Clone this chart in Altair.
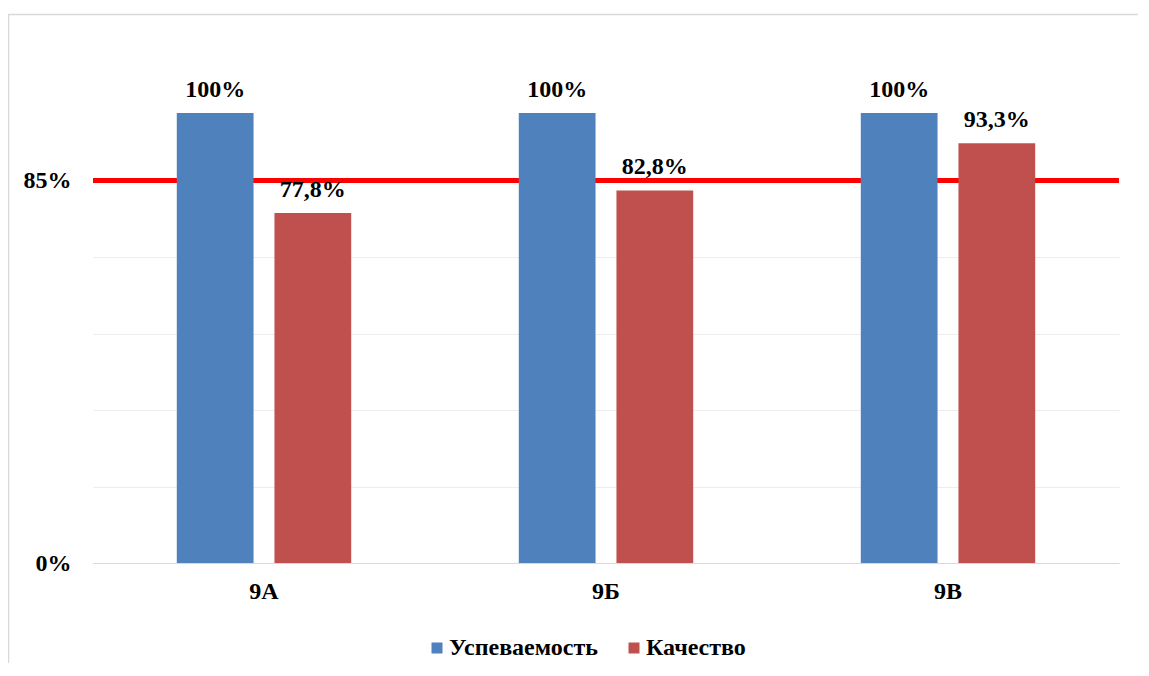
import altair as alt
import pandas as pd

classes = ["9А", "9Б", "9В"]
series = ["Успеваемость", "Качество"]
uspevaemost = [100, 100, 100]
kachestvo = [77.8, 82.8, 93.3]
target = [85]
colors = ["#4F81BD", "#C0504D"]

FONT = "Times New Roman, Liberation Serif, Tinos, Noto Serif, DejaVu Serif, FreeSerif, serif"
FS = 24

rows = []
for c, u, k in zip(classes, uspevaemost, kachestvo):
    rows.append({"cls": c, "series": series[0], "value": u})
    rows.append({"cls": c, "series": series[1], "value": k})
df = pd.DataFrame(rows)
df["label"] = df["value"].map(lambda v: f"{v:g}%".replace(".", ","))

tdf = pd.DataFrame({"target": target})
frame_df = pd.DataFrame({"a": [0]})

W, H = 1026, 459

x_enc = alt.X("cls:N", sort=classes,
              scale=alt.Scale(paddingInner=0.49, paddingOuter=0.245),
              axis=alt.Axis(title=None, labelAngle=0, ticks=False, labelPadding=16,
                            domainColor="#D9D9D9", domainWidth=1.2,
                            labelFont=FONT, labelFontSize=FS, labelFontWeight="bold",
                            labelColor="black", grid=False))
xo_enc = alt.XOffset("series:N", sort=series,
                     scale=alt.Scale(domain=series, paddingInner=0.214, paddingOuter=0))
y_scale = alt.Scale(domain=[0, 102], nice=False)

frame = alt.Chart(frame_df).mark_rect(fillOpacity=0, stroke="#D9D9D9", strokeWidth=1.5).encode(
    x=alt.value(-84.5), x2=alt.value(3000), y=alt.value(-89.5), y2=alt.value(3000)
)

rule = alt.Chart(tdf).mark_rule(color="#FF0000", strokeWidth=5).encode(
    y=alt.Y("target:Q", scale=y_scale)
)

bars = alt.Chart(df).mark_bar().encode(
    x=x_enc,
    xOffset=xo_enc,
    y=alt.Y("value:Q", scale=y_scale,
            axis=alt.Axis(title=None, values=[0, 17, 34, 51, 68, 85], ticks=False,
                          domain=False, labelPadding=22,
                          labelExpr="datum.value == 0 || datum.value == 85 ? datum.value + '%' : ''",
                          labelFont=FONT, labelFontSize=FS, labelFontWeight="bold",
                          labelColor="black", gridColor="#EDEDED", gridWidth=1.2)),
    color=alt.Color("series:N", sort=series,
                    scale=alt.Scale(domain=series, range=colors),
                    legend=alt.Legend(title=None, orient="none", direction="horizontal",
                                      legendX=332, legendY=532,
                                      symbolType="square", symbolSize=121,
                                      symbolStrokeWidth=0, labelOffset=0,
                                      columnPadding=24,
                                      labelFont=FONT, labelFontSize=FS,
                                      labelFontWeight="bold", labelColor="black")),
)

labels = alt.Chart(df).mark_text(
    font=FONT, fontSize=FS, fontWeight="bold", color="black",
    baseline="alphabetic", dy=-16
).encode(
    x=alt.X("cls:N", sort=classes),
    xOffset=alt.XOffset("series:N", sort=series),
    y=alt.Y("value:Q", scale=y_scale),
    text="label:N",
)

chart = alt.layer(frame, rule, bars, labels).properties(
    width=W, height=H,
    background="white",
    autosize=alt.AutoSizeParams(type="none"),
    padding={"left": 85, "top": 96, "right": 19, "bottom": 100},
).configure_view(stroke=None)

chart.save("out.html", embed_options={"renderer": "svg", "actions": False})
